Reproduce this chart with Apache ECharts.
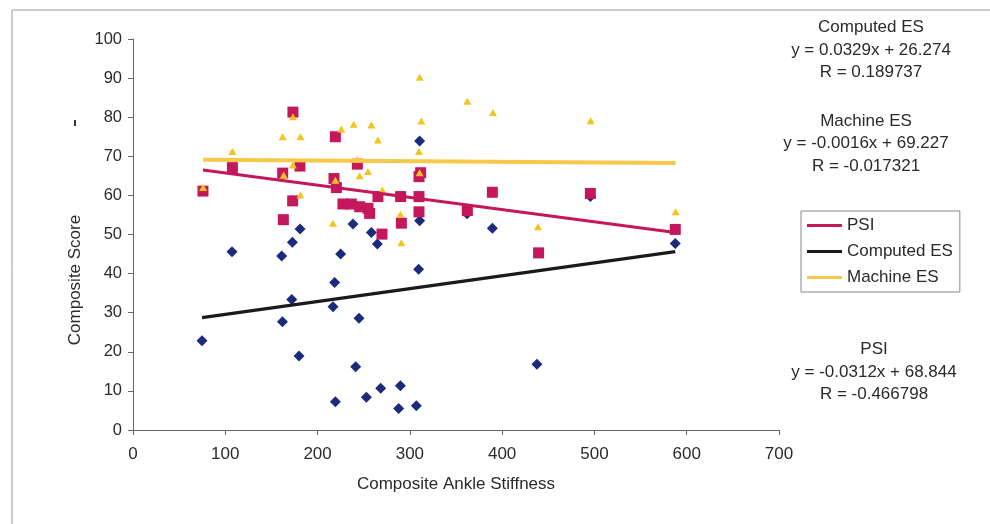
<!DOCTYPE html>
<html>
<head>
<meta charset="UTF-8">
<title>Composite Score vs Composite Ankle Stiffness</title>
<script src="https://cdn.jsdelivr.net/npm/echarts@6/dist/echarts.min.js"></script>
<style>
  html, body { margin: 0; padding: 0; background: #fff; }
  #main { width: 990px; height: 524px; }
</style>
</head>
<body>
<div id="main"></div>
<script>
// PSI (squares)
var psiX = [75.8, 107.7, 173.3, 219.3, 162.2, 180.9, 173.0, 162.9, 217.8, 220.4, 227.5, 243.1, 236.6, 245.6, 254.6,
            256.4, 265.4, 269.8, 290.0, 290.8, 309.9, 309.9, 309.9, 311.7, 362.3, 389.4, 495.6, 439.5, 587.6];
var psiY = [61.1, 67.1, 81.3, 75.0, 65.7, 67.5, 58.6, 53.8, 64.3, 62.0, 57.8, 68.0, 57.8, 57.1, 56.7,
            55.4, 59.7, 50.1, 59.7, 52.9, 59.7, 55.8, 64.8, 65.8, 56.1, 60.8, 60.5, 45.3, 51.3];

// Computed ES (diamonds)
var compX = [74.8, 107.3, 161.1, 161.9, 172.7, 172.0, 181.0, 179.9, 218.5, 216.7, 219.3, 225.0, 238.4, 244.9, 241.3,
             252.9, 258.3, 264.8, 268.4, 289.7, 287.9, 307.0, 309.5, 310.6, 310.6, 362.0, 389.4, 437.7, 495.6, 587.6];
var compY = [22.8, 45.6, 44.5, 27.7, 48.0, 33.4, 51.4, 18.9, 37.7, 31.5, 7.2, 45.0, 52.7, 28.6, 16.2,
             8.4, 50.5, 47.6, 10.7, 11.3, 5.5, 6.2, 41.1, 53.5, 73.9, 55.3, 51.6, 16.8, 59.7, 47.7];

// Machine ES (triangles)
var machX = [76.0, 107.7, 162.2, 163.3, 173.3, 173.3, 181.4, 181.4, 216.7, 219.3, 225.8, 239.1, 243.1, 245.6, 254.6,
             258.3, 265.4, 270.2, 289.7, 290.8, 309.9, 310.6, 310.6, 312.5, 362.3, 390.0, 438.8, 495.9, 588.0];
var machY = [62.0, 71.2, 75.0, 65.2, 80.1, 67.8, 75.0, 60.1, 52.9, 63.9, 77.0, 78.2, 69.2, 65.0, 66.1,
             78.0, 74.2, 61.4, 55.2, 47.9, 71.2, 65.8, 90.2, 79.0, 84.1, 81.2, 52.0, 79.1, 55.8];

// trendline coefficients [slope, intercept] as printed on the chart
var psiFit = [-0.0312, 68.844];
var compFit = [0.0329, 26.274];
var machFit = [-0.0016, 69.227];

var xTicks = [0, 700, 100];
var yTicks = [0, 100, 10];

var FONT = 'Liberation Sans, Arial, sans-serif';
var C_PSI = '#c5175b', C_COMP = '#1c2a7c', C_MACH = '#f6c21c';

function pairs(xs, ys) {
    return xs.map(function (x, i) { return [x, ys[i]]; });
}
function trend(xs, fit) {
    var lo = Math.min.apply(null, xs), hi = Math.max.apply(null, xs);
    return [[lo, fit[0] * lo + fit[1]], [hi, fit[0] * hi + fit[1]]];
}
function txt(s, x, y) {
    return { type: 'text', x: x, y: y, z: 100,
             style: { text: s, align: 'center', verticalAlign: 'middle', fontSize: 17, fontFamily: FONT, fill: '#2a2a2a' } };
}

var myChart = echarts.init(document.getElementById('main'));
var option = {
    animation: false,
    backgroundColor: '#fff',
    grid: { left: 133, right: 211, top: 39, bottom: 94 },
    xAxis: {
        type: 'value', min: xTicks[0], max: xTicks[1], interval: xTicks[2],
        name: 'Composite Ankle Stiffness', nameLocation: 'middle', nameGap: 46,
        nameTextStyle: { fontSize: 17, fontFamily: FONT, color: '#2a2a2a' },
        axisLine: { show: true, lineStyle: { color: '#666', width: 1 } },
        axisTick: { show: true, length: 5, lineStyle: { color: '#666' } },
        axisLabel: { fontSize: 17, fontFamily: FONT, color: '#2a2a2a', margin: 16 },
        splitLine: { show: false }
    },
    yAxis: {
        type: 'value', min: yTicks[0], max: yTicks[1], interval: yTicks[2],
        axisLine: { show: true, lineStyle: { color: '#666', width: 1 } },
        axisTick: { show: true, length: 5, lineStyle: { color: '#666' } },
        axisLabel: { fontSize: 16.5, fontFamily: FONT, color: '#2a2a2a', margin: 11 },
        splitLine: { show: false }
    },
    legend: {
        orient: 'vertical', left: 801, top: 211,
        backgroundColor: '#fff', borderColor: '#888', borderWidth: 1, borderRadius: 0,
        padding: [6, 7, 6, 6], itemGap: 9, itemWidth: 35, itemHeight: 3,
        textStyle: { fontSize: 17, fontFamily: FONT, color: '#2a2a2a' },
        data: [
            { name: 'PSI', icon: 'rect' },
            { name: 'Computed ES', icon: 'rect', itemStyle: { color: '#1a1a1a' } },
            { name: 'Machine ES', icon: 'rect', itemStyle: { color: '#f7c84a' } }
        ]
    },
    series: [
        { name: 'Computed ES', type: 'scatter', symbol: 'diamond', symbolSize: 11, z: 2,
          itemStyle: { color: C_COMP, opacity: 1 }, data: pairs(compX, compY) },
        { name: 'PSI', type: 'scatter', symbol: 'rect', symbolSize: 11, z: 3,
          itemStyle: { color: C_PSI, opacity: 1 }, data: pairs(psiX, psiY) },
        { name: 'Machine ES', type: 'scatter', symbol: 'triangle', symbolSize: [8, 7], z: 4,
          itemStyle: { color: C_MACH, opacity: 1 }, data: pairs(machX, machY) },
        { name: 'PSI', type: 'line', showSymbol: false, z: 5,
          lineStyle: { color: C_PSI, width: 3 }, itemStyle: { color: C_PSI }, data: trend(psiX, psiFit) },
        { name: 'Computed ES', type: 'line', showSymbol: false, z: 5,
          lineStyle: { color: '#1a1a1a', width: 3.3 }, itemStyle: { color: '#1a1a1a' }, data: trend(compX, compFit) },
        { name: 'Machine ES', type: 'line', showSymbol: false, z: 5,
          lineStyle: { color: '#f7c84a', width: 4 }, itemStyle: { color: C_MACH }, data: trend(machX, machFit) }
    ],
    graphic: [
        { type: 'rect', z: -1, shape: { x: 12, y: 10, width: 1100, height: 600 },
          style: { fill: 'none', stroke: '#999', lineWidth: 1 } },
        { type: 'rect', shape: { x: 74, y: 120, width: 2, height: 6 }, style: { fill: '#333' } },
        { type: 'text', x: 75, y: 280, rotation: Math.PI / 2,
          style: { text: 'Composite Score', align: 'center', verticalAlign: 'middle', fontSize: 17, fontFamily: FONT, fill: '#2a2a2a' } },
        txt('Computed ES', 871, 27),
        txt('y = 0.0329x + 26.274', 871, 50),
        txt('R = 0.189737', 871, 72),
        txt('Machine ES', 866, 121),
        txt('y = -0.0016x + 69.227', 866, 143),
        txt('R = -0.017321', 866, 166),
        txt('PSI', 874, 349),
        txt('y = -0.0312x + 68.844', 874, 372),
        txt('R = -0.466798', 874, 394)
    ]
};
myChart.setOption(option);
</script>
</body>
</html>
